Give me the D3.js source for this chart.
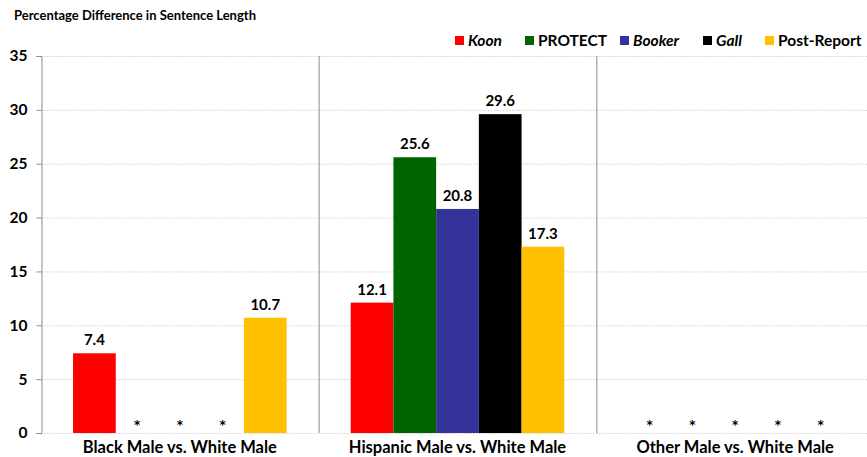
<!DOCTYPE html>
<html>
<head>
<meta charset="utf-8">
<script src="https://cdn.jsdelivr.net/npm/d3@7"></script>
<style>
  body { margin: 0; background: #fff; }
  svg text { font-family: "Lato", "DejaVu Sans", sans-serif; font-weight: bold; fill: #000; }
  .grid line { stroke: #d0d0d0; stroke-dasharray: 1.5 1.5; }
  svg text.na { font-family: "DejaVu Sans", sans-serif; }
</style>
</head>
<body>
<svg id="chart" width="867" height="457"></svg>
<script>
const groups = ["Black Male vs. White Male", "Hispanic Male vs. White Male", "Other Male vs. White Male"];
const seriesNames = ["Koon", "PROTECT", "Booker", "Gall", "Post-Report"];
const seriesColors = ["#ff0000", "#006400", "#333399", "#000000", "#ffc000"];
const italicSeries = ["Koon", "Booker", "Gall"];
// null = value not reported (shown as *)
const koon = [7.4, 12.1, null];
const protect = [null, 25.6, null];
const booker = [null, 20.8, null];
const gall = [null, 29.6, null];
const postReport = [10.7, 17.3, null];
const yTicks = [0, 5, 10, 15, 20, 25, 30, 35];

const seriesValues = [koon, protect, booker, gall, postReport];

const svg = d3.select("#chart");
const margin = { top: 56, left: 41, bottom: 24 };
const plotRight = 874;

const x0 = d3.scaleBand().domain(groups).range([margin.left, plotRight]).padding(0);
const x1 = d3.scaleBand().domain(seriesNames).range([0, x0.bandwidth()]).paddingOuter(0.75).paddingInner(0);
const y = d3.scaleLinear().domain([0, 35]).range([433, margin.top]);

// title
svg.append("text")
  .attr("x", 14)
  .attr("y", 20)
  .attr("font-size", 13)
  .text("Percentage Difference in Sentence Length");

// gridlines
svg.append("g")
  .attr("class", "grid")
  .selectAll("line")
  .data(yTicks)
  .join("line")
  .attr("x1", margin.left)
  .attr("x2", plotRight)
  .attr("y1", (d) => y(d) + 0.5)
  .attr("y2", (d) => y(d) + 0.5);

// group separators
svg.append("g")
  .selectAll("line")
  .data(groups.slice(1))
  .join("line")
  .attr("x1", (d) => x0(d) + 0.5)
  .attr("x2", (d) => x0(d) + 0.5)
  .attr("y1", y(35))
  .attr("y2", y(0))
  .attr("stroke", "#8c8c8c");

// y axis
const yAxis = svg.append("g")
  .attr("transform", `translate(${margin.left + 0.5},0)`)
  .call(d3.axisLeft(y).tickValues(yTicks).tickSize(5).tickPadding(9).tickFormat(d3.format("d")));
yAxis.select(".domain").attr("stroke", "#8c8c8c");
yAxis.selectAll(".tick line").attr("stroke", "#8c8c8c");
yAxis.selectAll(".tick text").attr("font-size", 15.5).attr("fill", "#000")
  .style("font-family", '"Lato", "DejaVu Sans", sans-serif').style("font-weight", "bold");

// bars
const cells = [];
groups.forEach((g, gi) => {
  seriesNames.forEach((s, si) => {
    cells.push({ group: g, series: s, color: seriesColors[si], value: seriesValues[si][gi] });
  });
});

const bars = svg.append("g");
bars.selectAll("rect")
  .data(cells.filter((d) => d.value !== null))
  .join("rect")
  .attr("x", (d) => x0(d.group) + x1(d.series))
  .attr("width", x1.bandwidth())
  .attr("y", (d) => y(d.value))
  .attr("height", (d) => y(0) - y(d.value))
  .attr("fill", (d) => d.color);

bars.selectAll("text.val")
  .data(cells.filter((d) => d.value !== null))
  .join("text")
  .attr("class", "val")
  .attr("x", (d) => x0(d.group) + x1(d.series) + x1.bandwidth() / 2)
  .attr("y", (d) => y(d.value) - 8)
  .attr("text-anchor", "middle")
  .attr("font-size", 15)
  .text((d) => d.value.toFixed(1));

bars.selectAll("text.na")
  .data(cells.filter((d) => d.value === null))
  .join("text")
  .attr("class", "na")
  .attr("x", (d) => x0(d.group) + x1(d.series) + x1.bandwidth() / 2)
  .attr("y", y(0) - 4)
  .attr("text-anchor", "middle")
  .attr("font-size", 12)
  .text("*");

// category labels
svg.append("g")
  .selectAll("text")
  .data(groups)
  .join("text")
  .attr("x", (d) => x0(d) + x0.bandwidth() / 2)
  .attr("y", 453)
  .attr("text-anchor", "middle")
  .attr("font-size", 16.5)
  .text((d) => d);

// legend
const legendX = [455, 525, 620, 703, 765];
const legend = svg.append("g")
  .selectAll("g")
  .data(seriesNames)
  .join("g")
  .attr("transform", (d, i) => `translate(${legendX[i]},36)`);
legend.append("rect")
  .attr("width", 9)
  .attr("height", 9)
  .attr("fill", (d, i) => seriesColors[i]);
legend.append("text")
  .attr("x", 13)
  .attr("y", 10)
  .attr("font-size", 15.5)
  .attr("font-style", (d) => italicSeries.includes(d) ? "italic" : "normal")
  .text((d) => d);
</script>
</body>
</html>
